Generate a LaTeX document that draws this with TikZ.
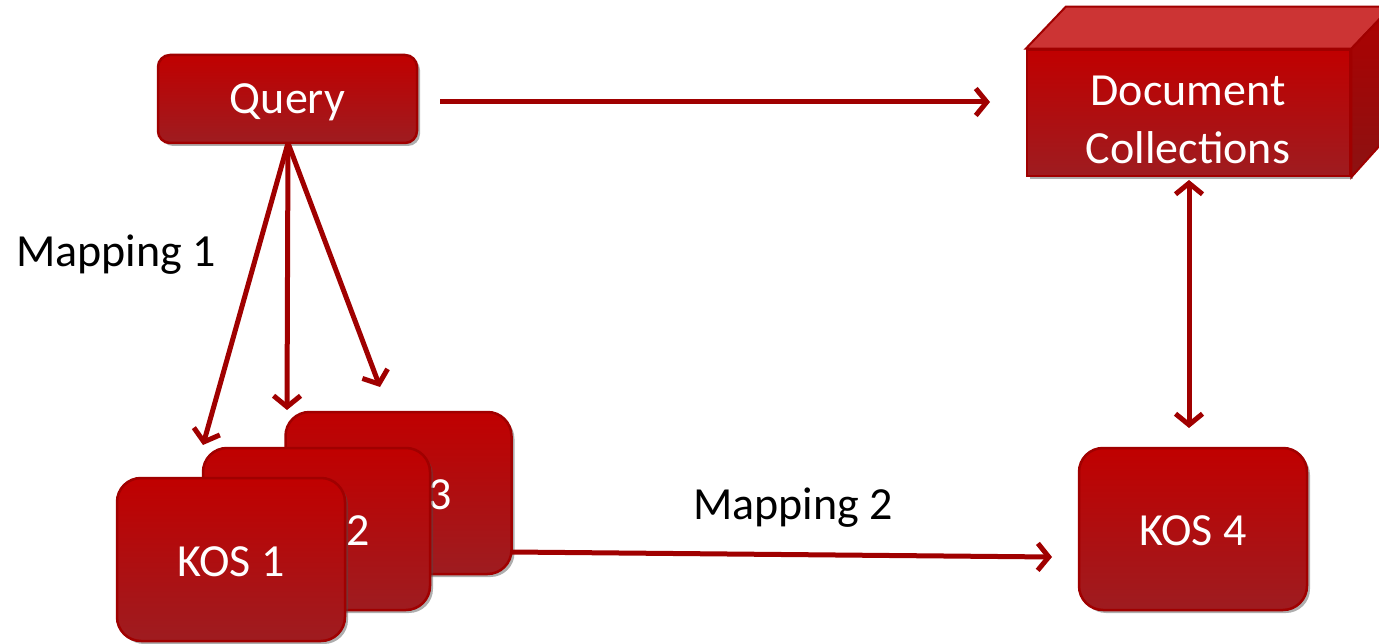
\documentclass[tikz,border=0pt]{standalone}
\usepackage{fontspec}
\setmainfont{Carlito}
\usetikzlibrary{arrows.meta,shadows}
\definecolor{arrred}{RGB}{160,0,0}
\definecolor{boxtop}{RGB}{192,0,0}
\definecolor{boxbot}{RGB}{158,28,32}
\definecolor{boxedge}{RGB}{160,0,0}
\definecolor{cubetop}{RGB}{204,52,52}
\definecolor{cubeside}{RGB}{140,18,18}
\tikzset{
  redbox/.style={draw=boxedge, line width=2.5pt, top color=boxtop, bottom color=boxbot,
    text=white, font=\fontsize{46}{58}\selectfont, inner sep=0pt,
    drop shadow={shadow xshift=3pt, shadow yshift=-3pt, opacity=0.45, fill=black!70}},
  kosbox/.style={redbox, rounded corners=24pt, minimum width=226pt, minimum height=162pt, text height=34pt},
  lbl/.style={font=\fontsize{46}{58}\selectfont, text=black, inner sep=0pt},
  arr/.style={draw=arrred, line width=5pt, -{Straight Barb[length=11pt,width=27pt]}},
  darr/.style={draw=arrred, line width=5pt, {Straight Barb[length=11pt,width=27pt]}-{Straight Barb[length=11pt,width=27pt]}}
}
\begin{document}
\begin{tikzpicture}[x=1pt,y=-1pt]
\useasboundingbox (0,0) rectangle (1379,644);
% Query
\node[redbox, rounded corners=12pt, minimum width=259pt, minimum height=88pt, text height=36pt] (q) at (287.5,99) {Query};
% Document collections cube
\node[redbox, rounded corners=0pt, minimum width=323pt, minimum height=126pt] (doc) at (1188.5,113) {};
\node[text=white, font=\fontsize{46}{58}\selectfont, inner sep=0pt, align=center] (doctxt) at (1188,120) {Document\\Collections};
\fill[cubetop, draw=boxedge, line width=2pt] (doc.north west) -- ++(40,-42) -- ++(323,0) -- ([shift={(40,-42)}]doc.north east) -- (doc.north east) -- cycle;
\shade[top color=boxtop!90!black, bottom color=cubeside, draw=boxedge, line width=2pt] (doc.north east) -- ++(40,-42) -- ++(0,126) -- (doc.south east) -- cycle;
% KOS stack
\node[kosbox] (k3) at (398.5,493) {KOS 3};
\node[kosbox, minimum width=227pt] (k2) at (316.5,529) {KOS 2};
\node[kosbox, minimum width=228pt, minimum height=163pt] (k1) at (231,559.5) {KOS 1};
\node[kosbox, minimum width=228pt] (k4) at (1193,529) {KOS 4};
% labels
\node[lbl] (m1) at (116,255) {Mapping 1};
\node[lbl] (m2) at (793,508) {Mapping 2};
% connector end points
\coordinate (qs) at (288,143);
\coordinate (e1) at (203,445);
\coordinate (e2) at (287,410);
\coordinate (e3) at (380,387);
\coordinate (qe) at (440,102);
\coordinate (de) at (990,102);
\coordinate (ds) at (1189,180);
\coordinate (kn) at (1189,428);
\coordinate (k3e) at (511,552);
\coordinate (k4w) at (1052,557);
% arrows
\draw[arr] (qe) -- (de);
\draw[arr] (qs) -- (e1);
\draw[arr] (qs) -- (e2);
\draw[arr] (qs) -- (e3);
\draw[darr] (ds) -- (kn);
\draw[arr] (k3e) -- (k4w);
\end{tikzpicture}
\end{document}
